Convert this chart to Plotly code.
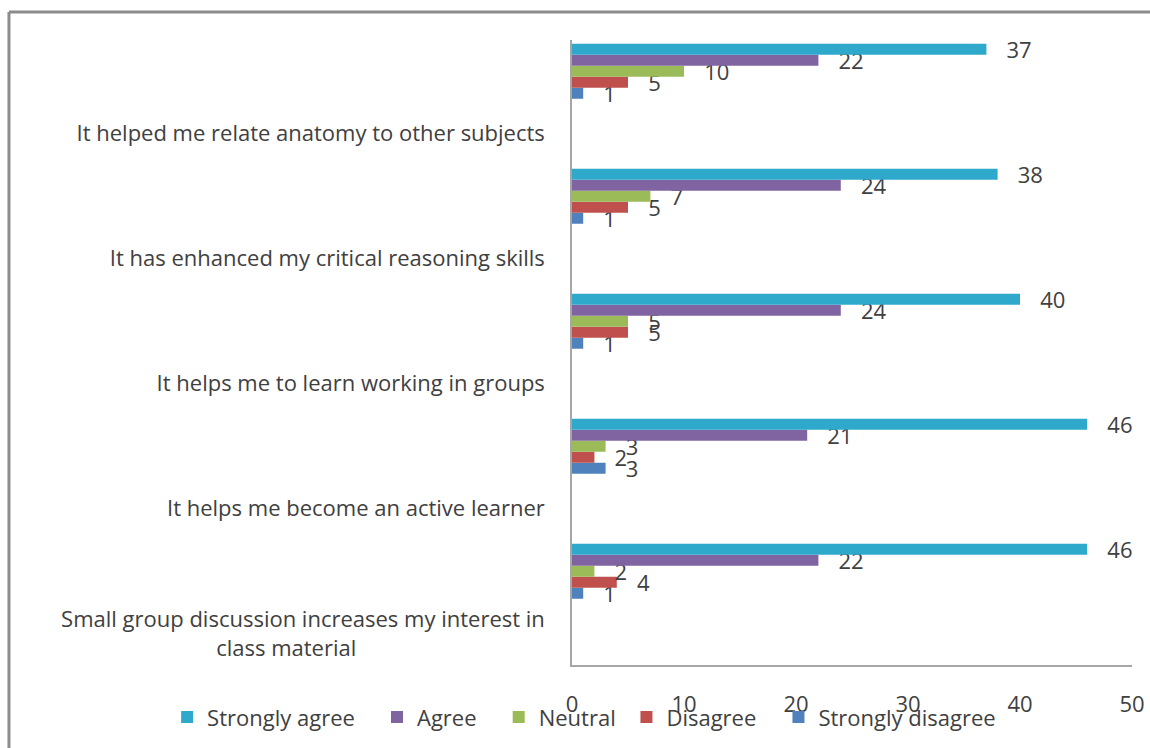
import plotly.graph_objects as go

NB = "\u00a0"
categories = [
    "Small group discussion increases my interest in<br>class material" + NB * 33,
    "It helps me become an active learner",
    "It helps me to learn working in groups",
    "It has enhanced my critical reasoning skills",
    "It helped me relate anatomy to other subjects",
]
series_names = ["Strongly disagree", "Disagree", "Neutral", "Agree", "Strongly agree"]
strongly_disagree = [1, 3, 1, 1, 1]
disagree = [4, 2, 5, 5, 5]
neutral = [2, 3, 5, 7, 10]
agree = [22, 21, 24, 24, 22]
strongly_agree = [46, 46, 40, 38, 37]
x_ticks = [0, 10, 20, 30, 40, 50]

series_values = [strongly_disagree, disagree, neutral, agree, strongly_agree]
colors = ["#4F81BD", "#C0504D", "#9BBB59", "#8064A2", "#2FA9CB"]
# extra trailing space in legend entries to mimic the wider spacing of the original
legend_pad = [0, 3, 1, 3, 3]

FONT = "Open Sans"
TXT = "#404040"
FS = 22

positions = list(range(len(categories)))

fig = go.Figure()
for name, vals, col, pad in zip(series_names, series_values, colors, legend_pad):
    fig.add_trace(go.Bar(
        y=positions, x=vals, name=name + NB * pad, orientation="h",
        marker=dict(color=col, line=dict(width=0)),
        text=[NB * 3 + str(v) for v in vals],
        textposition="outside", constraintext="none", cliponaxis=False,
        textfont=dict(family=FONT, size=FS, color=TXT),
    ))

tick_pos = [p - 0.5 for p in positions]

fig.update_layout(
    width=1150, height=748,
    margin=dict(l=572, r=18, t=40, b=83, autoexpand=False),
    paper_bgcolor="white", plot_bgcolor="white",
    barmode="group", bargap=0.56, bargroupgap=0.0,
    font=dict(family=FONT, size=FS, color=TXT),
    showlegend=True,
    legend=dict(orientation="h", traceorder="reversed",
                x=-0.723, xanchor="left", y=-0.0836, yanchor="middle",
                font=dict(family=FONT, size=FS, color=TXT),
                bgcolor="rgba(0,0,0,0)"),
    xaxis=dict(range=[0, 50], tickvals=x_ticks, showgrid=False, zeroline=False,
               showline=True, linecolor="#A6A6A6", linewidth=1.5,
               ticks="", ticklabelstandoff=19, automargin=False,
               tickfont=dict(family=FONT, size=FS, color=TXT)),
    yaxis=dict(range=[-0.75, 4.25], tickvals=tick_pos, ticktext=categories,
               showgrid=False, zeroline=False, automargin=False,
               showline=True, linecolor="#A6A6A6", linewidth=1.5,
               ticks="", ticklabelstandoff=21,
               tickfont=dict(family=FONT, size=FS, color=TXT)),
    shapes=[
        dict(type="line", xref="paper", yref="paper",
             x0=-1.0054, x1=-1.0054, y0=1.0448, y1=-0.3,
             line=dict(color="#8C8C8C", width=3)),
        dict(type="line", xref="paper", yref="paper",
             x0=-1.0054, x1=1.2, y0=1.0448, y1=1.0448,
             line=dict(color="#8C8C8C", width=3)),
    ],
)

fig.write_html("out.html")
